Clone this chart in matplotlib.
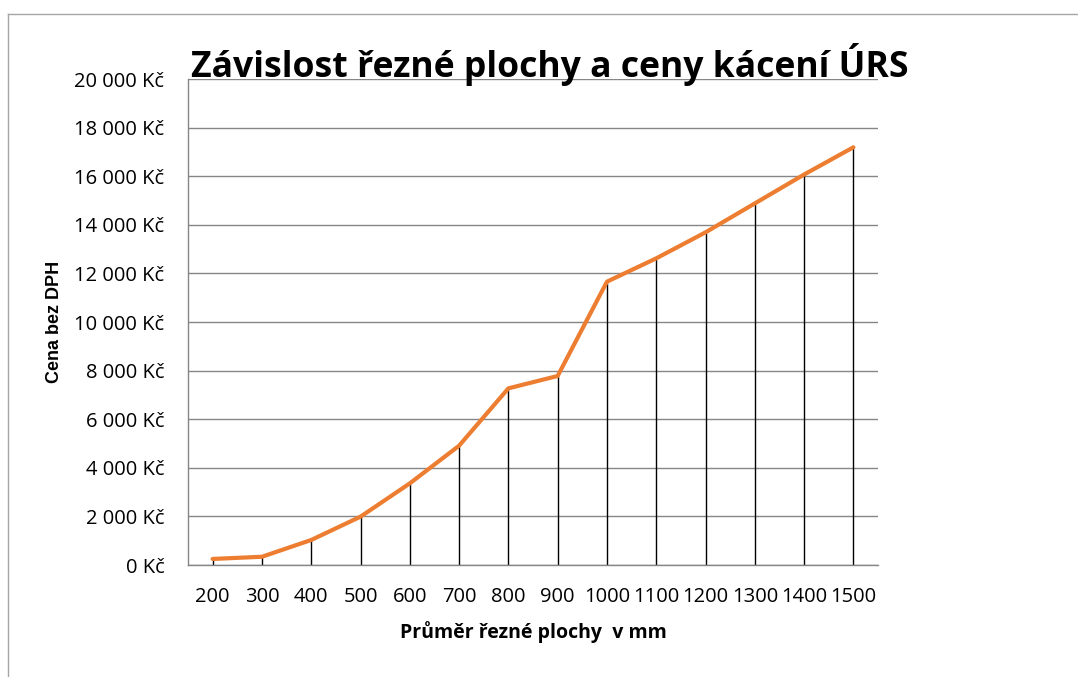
import matplotlib.pyplot as plt
from matplotlib.lines import Line2D

# data
prumer = ["200", "300", "400", "500", "600", "700", "800", "900",
          "1000", "1100", "1200", "1300", "1400", "1500"]
cena = [250, 340, 1030, 1990, 3360, 4910, 7270, 7780,
        11660, 12620, 13690, 14880, 16070, 17190]
y_ticks = list(range(0, 20001, 2000))
y_labels = [f"{v:,}".replace(",", " ") + " Kč" for v in y_ticks]

plt.rcParams['font.family'] = ['Open Sans', 'DejaVu Sans']

fig = plt.figure(figsize=(10.78, 6.77), dpi=100)
ax = fig.add_axes([0.1744, 0.1654, 0.6401, 0.7179])

x = list(range(len(prumer)))
ax.vlines(x, 0, cena, color="black", linewidth=1, zorder=2)
ax.plot(x, cena, color="#ED7D31", linewidth=3, zorder=3, solid_capstyle="round")

ax.set_xlim(-0.5, len(prumer) - 0.5)
ax.set_ylim(0, 20000)
ax.set_yticks(y_ticks)
ax.set_yticklabels(y_labels)
ax.set_xticks(x)
ax.set_xticklabels(prumer)
ax.tick_params(axis="both", length=0, labelsize=14.5, colors="#000000")
ax.tick_params(axis="y", pad=17)
ax.tick_params(axis="x", pad=16)

ax.grid(axis="y", color="#868686", linewidth=1)
ax.set_axisbelow(True)
for s in ["top", "right"]:
    ax.spines[s].set_visible(False)
for s in ["left", "bottom"]:
    ax.spines[s].set_color("#868686")
    ax.spines[s].set_linewidth(1)

ax.set_ylabel("Cena bez DPH", fontsize=13, fontweight="bold",
              family=["Liberation Sans", "DejaVu Sans"], labelpad=8)
ax.set_xlabel("Průměr řezné plochy  v mm", fontsize=14, fontweight="bold", labelpad=10)

fig.text(0.510, 1 - 77/677, "Závislost řezné plochy a ceny kácení ÚRS",
         ha="center", va="baseline", fontsize=25.6, fontweight="bold")

# outer chart border
fig.add_artist(Line2D([8/1078, 1], [1 - 14/677, 1 - 14/677], color="#A6A6A6", linewidth=1))
fig.add_artist(Line2D([8/1078, 8/1078], [0, 1 - 14/677], color="#A6A6A6", linewidth=1))

fig.savefig("out.png", dpi=100)
